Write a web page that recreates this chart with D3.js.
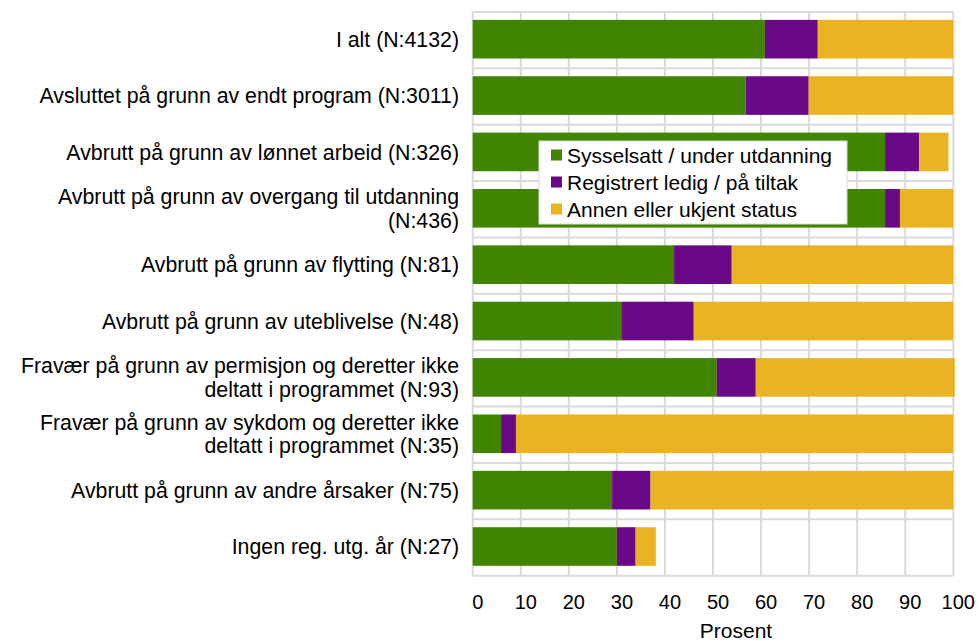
<!DOCTYPE html>
<html>
<head>
<meta charset="utf-8">
<script src="https://cdn.jsdelivr.net/npm/d3@7.9.0/dist/d3.min.js"></script>
<style>
  body { margin: 0; background: #fff; }
  text { font-family: "Liberation Sans", Arial, sans-serif; fill: #000; }
</style>
</head>
<body>
<svg id="chart" width="979" height="641"></svg>
<script>
const categories = [
  'I alt (N:4132)',
  'Avsluttet på grunn av endt program (N:3011)',
  'Avbrutt på grunn av lønnet arbeid (N:326)',
  'Avbrutt på grunn av overgang til utdanning\n(N:436)',
  'Avbrutt på grunn av flytting (N:81)',
  'Avbrutt på grunn av uteblivelse (N:48)',
  'Fravær på grunn av permisjon og deretter ikke\ndeltatt i programmet (N:93)',
  'Fravær på grunn av sykdom og deretter ikke\ndeltatt i programmet (N:35)',
  'Avbrutt på grunn av andre årsaker (N:75)',
  'Ingen reg. utg. år (N:27)'
];
const employed   = [60.8, 56.8, 85.8, 85.8, 41.9, 30.9, 50.8, 5.9, 29.0, 30.0];
const unemployed = [11.0, 13.1,  7.1,  3.1, 12.0, 15.1,  8.1, 3.1,  8.0,  3.9];
const other      = [28.2, 30.1,  6.1, 11.1, 46.1, 54.0, 41.4, 91.0, 63.0, 4.2];
const seriesNames = ['Sysselsatt / under utdanning', 'Registrert ledig / på tiltak', 'Annen eller ukjent status'];
const seriesColors = ['#408400', '#6b0888', '#ebb321'];
const xTicks = d3.range(0, 101, 10);
const xTitle = 'Prosent';

const svg = d3.select('#chart');
const plotL = 472.7, plotR = 953.3, plotT = 12, plotB = 575.7;

const x = d3.scaleLinear().domain([0, 100]).range([plotL, plotR]);
const y = d3.scaleBand().domain(d3.range(categories.length)).range([plotT, plotB])
  .paddingInner(0.315).paddingOuter(0.1575);

// table for the stack
const rows = categories.map((c, i) => ({ i, a: employed[i], b: unemployed[i], c: other[i] }));
const stacked = d3.stack().keys(['a', 'b', 'c'])(rows);

// grid
const grid = svg.append('g').attr('stroke', '#d9d9d9').attr('stroke-width', 2);
grid.selectAll('line.v').data(xTicks).join('line')
  .attr('x1', d => x(d)).attr('x2', d => x(d)).attr('y1', plotT).attr('y2', plotB);
const bounds = y.domain().map(d => y(d) - y.step() * y.paddingInner() / 2);
bounds.push(plotB);
bounds[0] = plotT;
grid.selectAll('line.h').data(bounds).join('line')
  .attr('x1', plotL).attr('x2', plotR).attr('y1', d => d).attr('y2', d => d);

// bars
svg.append('g').selectAll('g').data(stacked).join('g')
  .attr('fill', (d, k) => seriesColors[k])
  .selectAll('rect').data(d => d).join('rect')
  .attr('x', d => x(d[0]))
  .attr('width', d => x(d[1]) - x(d[0]))
  .attr('y', d => y(d.data.i) - 1)
  .attr('height', y.bandwidth());

// category labels
const labels = svg.append('g').attr('text-anchor', 'end').attr('font-size', 21.3);
categories.forEach((c, i) => {
  const lines = c.split('\n');
  const cy = y(i) + y.bandwidth() / 2 - 1;
  const t = labels.append('text').attr('x', 459).attr('y', cy);
  lines.forEach((l, j) => {
    t.append('tspan').attr('x', 459)
      .attr('y', cy + (j - (lines.length - 1) / 2) * 23.5)
      .attr('dy', '0.36em').text(l);
  });
});

// x axis
const axis = svg.append('g').attr('transform', `translate(4.5,${plotB})`)
  .call(d3.axisBottom(x).tickValues(xTicks).tickSize(0).tickPadding(19));
axis.select('.domain').remove();
axis.selectAll('text').attr('font-size', 20).attr('fill', '#000')
  .style('font-family', '"Liberation Sans", Arial, sans-serif');

svg.append('text').attr('x', 736).attr('y', 638).attr('text-anchor', 'middle')
  .attr('font-size', 21).text(xTitle);

// legend
const lg = svg.append('g').attr('transform', 'translate(539,141)');
lg.append('rect').attr('width', 308).attr('height', 83).attr('fill', '#fff')
  .attr('stroke', '#d9d9d9').attr('stroke-width', 1);
const items = lg.selectAll('g').data(seriesNames).join('g')
  .attr('transform', (d, k) => `translate(12,${14 + k * 27})`);
items.append('rect').attr('y', -5.5).attr('width', 11).attr('height', 11)
  .attr('fill', (d, k) => seriesColors[k]);
items.append('text').attr('x', 16).attr('dy', '0.36em').attr('font-size', 21).text(d => d);
</script>
</body>
</html>
